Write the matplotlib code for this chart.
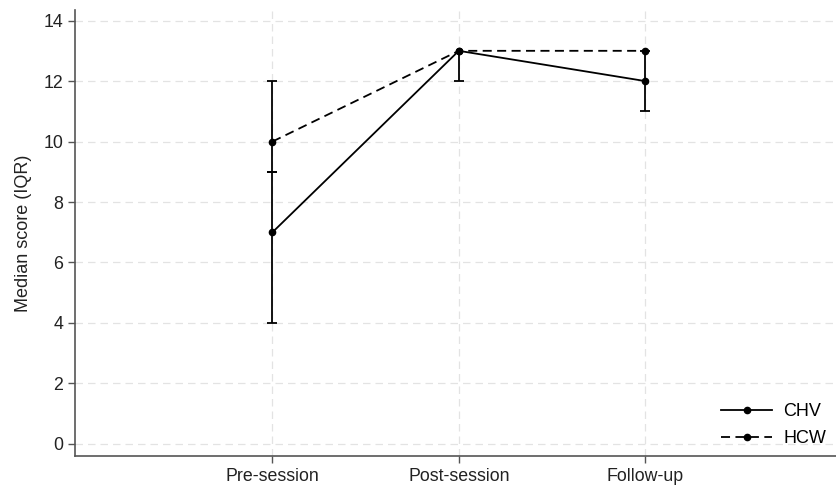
import matplotlib
matplotlib.use("Agg")
import matplotlib.pyplot as plt
import numpy as np

plt.rcParams['font.family'] = ['Liberation Sans', 'DejaVu Sans']

stages = ['Pre-session', 'Post-session', 'Follow-up']
chv_median = [7, 13, 12]
chv_low = [4, 12, 11]
chv_high = [9, 13, 13]
hcw_median = [10, 13, 13]
hcw_low = [9, 13, 13]
hcw_high = [12, 13, 13]

x = np.arange(1, len(stages) + 1)
gray = '#555555'

fig = plt.figure(figsize=(8.37, 4.91), dpi=100)
ax = fig.add_axes([75/837, 35/491, 1 - 75/837, (456 - 10)/491])

def whiskers(med, lo, hi):
    # vertical bar plus caps only where the bound differs from the median
    ax.vlines(x, lo, hi, color='black', lw=1.3, zorder=3)
    for bound in (lo, hi):
        sel = [i for i in range(len(x)) if bound[i] != med[i]]
        ax.plot(x[sel], np.array(bound)[sel], ls='none', marker='_',
                markersize=7, mew=1.3, color='black', zorder=3)

whiskers(chv_median, chv_low, chv_high)
whiskers(hcw_median, hcw_low, hcw_high)

ax.plot(x, chv_median, color='black', ls='-', lw=1.3, marker='o',
        markersize=4.5, label='CHV', zorder=4)
ax.plot(x, hcw_median, color='black', ls=(0, (5, 3)), lw=1.3, marker='o',
        markersize=4.5, label='HCW', zorder=4)

ax.set_xlim(-0.06, 4.03)
ax.set_ylim(-0.4, 14.35)
ax.set_xticks(x)
ax.set_xticklabels(stages)
ax.set_yticks(np.arange(0, 15, 2))
ax.grid(True, color='#e3e3e3', ls=(0, (6, 4)), lw=0.9)
ax.set_axisbelow(True)

for s in ['top', 'right']:
    ax.spines[s].set_visible(False)
for s in ['left', 'bottom']:
    ax.spines[s].set_color(gray)
    ax.spines[s].set_linewidth(1.2)
ax.tick_params(colors=gray, labelcolor='#222222', labelsize=12.8, length=5, width=1)
ax.set_ylabel('Median score (IQR)', fontsize=13, color='#222222', labelpad=8)

ax.legend(loc='lower right', frameon=False, fontsize=13, handlelength=2.85,
          handletextpad=0.6, labelspacing=0.55, borderaxespad=0.2,
          bbox_to_anchor=(1.0, -0.005))

fig.savefig('out.png', dpi=100)
